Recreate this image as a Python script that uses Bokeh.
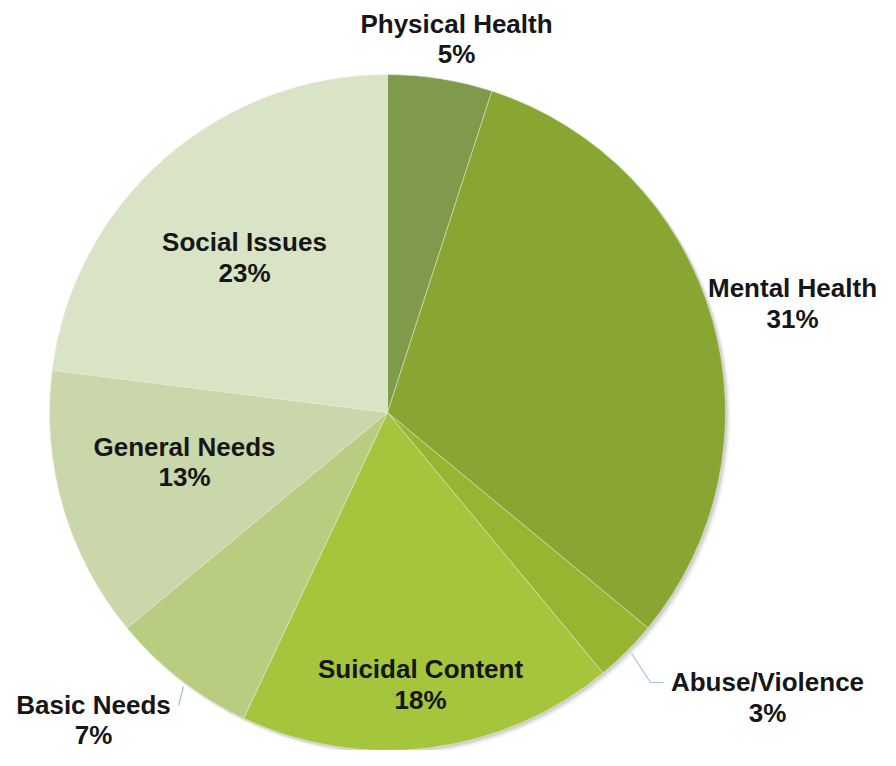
import numpy as np
from bokeh.plotting import figure
from bokeh.models import Range1d, ColumnDataSource
from bokeh.core.properties import value
from bokeh.embed import file_html
from bokeh.resources import INLINE

# ---- data ----
categories = ["Physical Health", "Mental Health", "Abuse/Violence", "Suicidal Content",
              "Basic Needs", "General Needs", "Social Issues"]
values = [5, 31, 3, 18, 7, 13, 23]
pct_labels = ["5%", "31%", "3%", "18%", "7%", "13%", "23%"]
colors = ["#7f9a4b", "#8aa632", "#97b530", "#a5c53c", "#b8cd80", "#c9d7ab", "#d9e3c6"]

# ---- layout (pixels from the figure's top-left corner) ----
W, H = 880, 750
CX, CY, R = 387, 412, 338
FONT_SIZE = "26px"
# label centre x, middle y of the name line, middle y of the percent line
label_pos = {
    "Physical Health": (456, 23, 53),
    "Mental Health": (792, 287, 318),
    "Abuse/Violence": (767, 681, 712),
    "Suicidal Content": (420, 668, 699),
    "Basic Needs": (93, 704, 734),
    "General Needs": (184, 446, 476),
    "Social Issues": (244, 241, 272),
}
leaders = {
    "Abuse/Violence": ([631, 650, 663], [653, 682, 682]),
    "Basic Needs": ([183, 178], [686, 705]),
}


def sy(y):  # pixel y (down) -> data y (up)
    return H - y


p = figure(width=W, height=H, output_backend="svg", toolbar_location=None,
           x_range=Range1d(0, W), y_range=Range1d(0, H),
           min_border=0, outline_line_color=None)
p.axis.visible = False
p.grid.visible = False
p.background_fill_color = "white"
p.border_fill_color = "white"

# soft drop shadow (lower right)
for i, a in enumerate([0.04, 0.06, 0.09]):
    p.circle(x=CX + 4 - i, y=sy(CY + 4 - i), radius=R + 1 - i * 0.5, fill_color="black",
             fill_alpha=a, line_color=None)

vals = np.array(values, dtype=float)
frac = vals / vals.sum()
ends = np.pi / 2 - 2 * np.pi * np.cumsum(frac)
starts = np.concatenate([[np.pi / 2], ends[:-1]])
src = ColumnDataSource(dict(start=starts, end=ends, color=colors, cat=categories))
p.wedge(x=CX, y=sy(CY), radius=R, start_angle="start", end_angle="end",
        direction="clock", fill_color="color", line_color="#eef2e4", line_width=0.8,
        line_alpha=0.6, source=src)

for cat, (xs, ys) in leaders.items():
    p.line(x=xs, y=[sy(v) for v in ys], line_color="#9dc3e6", line_width=1.2)

lx = [label_pos[c][0] for c in categories]
ly1 = [sy(label_pos[c][1]) for c in categories]
ly2 = [sy(label_pos[c][2]) for c in categories]
common = dict(text_font=value("Liberation Sans"), text_font_style="bold",
              text_font_size=FONT_SIZE, text_align="center",
              text_baseline="middle", text_color="#161616")
p.text(x=lx, y=ly1, text=categories, **common)
p.text(x=lx, y=ly2, text=pct_labels, **common)

open("out.html", "w").write(file_html(p, INLINE))
